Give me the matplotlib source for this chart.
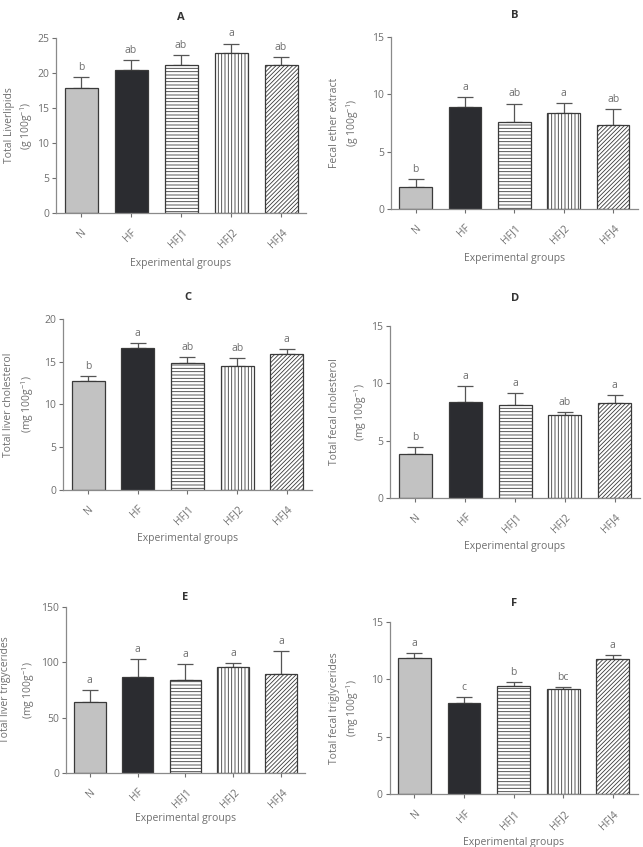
import numpy as np
import matplotlib
matplotlib.use('Agg')
import matplotlib.pyplot as plt

plt.rcParams['font.family'] = ['Open Sans', 'DejaVu Sans']
plt.rcParams['mathtext.fontset'] = 'custom'
plt.rcParams['mathtext.rm'] = 'Open Sans'
plt.rcParams['mathtext.it'] = 'Open Sans'
plt.rcParams['hatch.linewidth'] = 0.6

groups = ['N', 'HF', 'HFJ1', 'HFJ2', 'HFJ4']

liver_lipids = [17.9, 20.4, 21.2, 22.8, 21.2]
liver_lipids_err = [1.5, 1.4, 1.4, 1.4, 1.1]
liver_lipids_sig = ['b', 'ab', 'ab', 'a', 'ab']

fecal_ether = [1.87, 8.92, 7.6, 8.4, 7.32]
fecal_ether_err = [0.75, 0.83, 1.6, 0.87, 1.43]
fecal_ether_sig = ['b', 'a', 'ab', 'a', 'ab']

liver_chol = [12.74, 16.6, 14.9, 14.5, 15.87]
liver_chol_err = [0.62, 0.6, 0.65, 0.94, 0.63]
liver_chol_sig = ['b', 'a', 'ab', 'ab', 'a']

fecal_chol = [3.85, 8.35, 8.14, 7.23, 8.28]
fecal_chol_err = [0.56, 1.4, 0.99, 0.27, 0.68]
fecal_chol_sig = ['b', 'a', 'a', 'ab', 'a']

liver_tg = [64.4, 86.8, 84.4, 95.6, 89.8]
liver_tg_err = [10.6, 16.6, 14.2, 3.7, 20.6]
liver_tg_sig = ['a', 'a', 'a', 'a', 'a']

fecal_tg = [11.87, 7.96, 9.43, 9.17, 11.73]
fecal_tg_err = [0.43, 0.52, 0.3, 0.18, 0.4]
fecal_tg_sig = ['a', 'c', 'b', 'bc', 'a']

fills = ['#c2c2c2', '#2b2c30', 'white', 'white', 'white']
hatches = [None, None, '-----', '|||||', '////////']
grey = '#6f6f6f'
edge = '#3a3a3a'

# letter, axes rect, values, errors, letters, ymax, step, ylabel,
# title pad, xlabel pad, ylabel x (axes coords), ylabel linespacing
panels = [
    ('A', [0.0871, 0.7485, 0.3888, 0.2066], liver_lipids, liver_lipids_err, liver_lipids_sig,
     25, 5, 'Total Liverlipids\n(g 100g$^{-1}$)', 13, 6, -0.145, 1.3),
    ('B', [0.608, 0.7536, 0.384, 0.2024], fecal_ether, fecal_ether_err, fecal_ether_sig,
     15, 5, 'Fecal ether extract\n(g 100g$^{-1}$)', 14, 5, -0.186, 1.3),
    ('C', [0.0984, 0.4218, 0.3863, 0.2015], liver_chol, liver_chol_err, liver_chol_sig,
     20, 5, 'Total liver cholesterol\n(mg 100g$^{-1}$)', 14, 4.5, -0.178, 1.45),
    ('D', [0.607, 0.4124, 0.388, 0.2024], fecal_chol, fecal_chol_err, fecal_chol_sig,
     15, 5, 'Total fecal cholesterol\n(mg 100g$^{-1}$)', 18, 4.5, -0.165, 2.0),
    ('E', [0.1026, 0.0877, 0.3717, 0.1953], liver_tg, liver_tg_err, liver_tg_sig,
     150, 50, 'Total liver trigycerides\n(mg 100g$^{-1}$)', 5, 2.5, -0.2, 1.8),
    ('F', [0.606, 0.0622, 0.3857, 0.2038], fecal_tg, fecal_tg_err, fecal_tg_sig,
     15, 5, 'Total fecal triglycerides\n(mg 100g$^{-1}$)', 11, 4, -0.18, 1.3),
]

fig = plt.figure(figsize=(6.43, 8.47), dpi=100)

for letter, rect, vals, errs, sig, ymax, step, ylabel, tpad, xpad, ylx, ls in panels:
    ax = fig.add_axes(rect)
    x = np.arange(len(groups))
    for i in range(len(groups)):
        ax.bar(x[i], vals[i], width=0.66, color=fills[i], edgecolor=edge,
               linewidth=0.9, hatch=hatches[i], zorder=2)
    ax.errorbar(x, vals, yerr=[np.zeros(len(vals)), errs], fmt='none',
                ecolor='#555555', elinewidth=0.9, capsize=5.5, capthick=0.9, zorder=1)
    for i in range(len(groups)):
        ax.annotate(sig[i], (x[i], vals[i] + errs[i]), xytext=(0, 3),
                    textcoords='offset points', ha='center', va='bottom',
                    fontsize=7.5, color=grey)
    ax.set_xlim(-0.5, 4.5)
    ax.set_ylim(0, ymax)
    ax.set_yticks(np.arange(0, ymax + step / 2, step))
    ax.set_xticks(x)
    ax.set_xticklabels(groups, rotation=45, ha='right', va='top',
                       rotation_mode='anchor')
    ax.tick_params(colors=grey, labelsize=7.5, length=3, width=0.8, pad=2)
    ax.tick_params(axis='x', pad=7)
    for s in ['top', 'right']:
        ax.spines[s].set_visible(False)
    for s in ['left', 'bottom']:
        ax.spines[s].set_color('#8a8a8a')
        ax.spines[s].set_linewidth(0.9)
    ax.set_ylabel(ylabel, fontsize=7.5, color=grey, linespacing=ls,
                  va='center', ha='center')
    ax.yaxis.set_label_coords(ylx, 0.5)
    ax.set_xlabel('Experimental groups', fontsize=7.5, color=grey, labelpad=xpad)
    ax.set_title(letter, fontsize=8, fontweight='bold', color='#333333', pad=tpad)

fig.savefig('out.png', dpi=100)
